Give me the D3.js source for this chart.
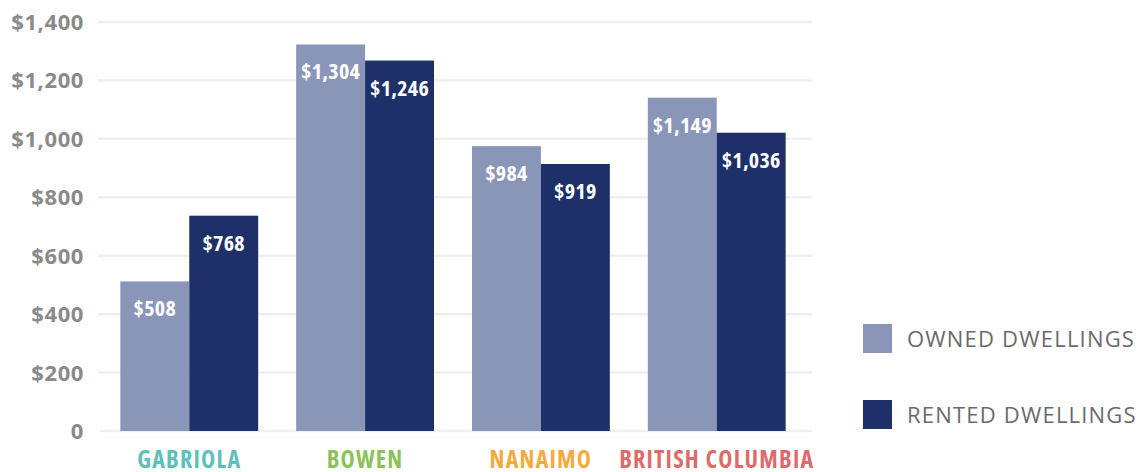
<!DOCTYPE html>
<html>
<head>
<meta charset="utf-8">
<script src="https://cdn.jsdelivr.net/npm/d3@7"></script>
<style>
  body { margin: 0; background: #fff; }
  svg { display: block; font-family: "Open Sans", sans-serif; }
</style>
</head>
<body>
<div id="chart"></div>
<script>
// Categories and values (bar heights as drawn, printed labels as shown)
const categories = ["GABRIOLA", "BOWEN", "NANAIMO", "BRITISH COLUMBIA"];
const ownedValues = [512, 1323, 975, 1141];
const rentedValues = [737, 1268, 914, 1021];
const ownedPrinted = [508, 1304, 984, 1149];
const rentedPrinted = [768, 1246, 919, 1036];
const seriesNames = ["OWNED DWELLINGS", "RENTED DWELLINGS"];
const yTicks = [0, 200, 400, 600, 800, 1000, 1200, 1400];

const categoryColors = ["#5fbfbb", "#8cc25a", "#f6aa3c", "#df6a6b"];
const seriesColors = ["#8a96b8", "#1e3068"];

class BarChart {
    constructor() {
        this.width = 1143;
        this.height = 472;
        this.svg = null;
    }

    init() {
        this.svg = d3.select("#chart").append("svg")
            .attr("width", this.width)
            .attr("height", this.height);

        this.y = d3.scaleLinear().domain([0, 1400]).range([431, 22]);
        this.x = d3.scaleBand()
            .domain(categories)
            .range([101, 805])
            .paddingInner(0.216)
            .paddingOuter(0.11);
        this.xSub = d3.scaleBand()
            .domain(seriesNames)
            .range([0, this.x.bandwidth()]);

        this.drawGrid();
        this.drawBars();
        this.drawCategoryLabels();
        this.drawLegend();
    }

    drawGrid() {
        const fmt = d => d === 0 ? "0" : d3.format("$,")(d);
        const grid = this.svg.append("g");
        grid.selectAll("line").data(yTicks).join("line")
            .attr("x1", d => d === 0 ? 100 : 98)
            .attr("x2", 812)
            .attr("y1", d => this.y(d))
            .attr("y2", d => this.y(d))
            .attr("stroke", "#efefef")
            .attr("stroke-width", 2.5);
        grid.selectAll("text").data(yTicks).join("text")
            .attr("x", 84)
            .attr("y", d => this.y(d) + 8)
            .attr("text-anchor", "end")
            .attr("fill", "#8a8a8a")
            .attr("font-size", 22)
            .attr("font-weight", 700)
            .attr("letter-spacing", 0.6)
            .text(fmt);
    }

    drawBars() {
        const rows = categories.map((c, i) => ({
            category: c,
            bars: [
                { key: seriesNames[0], value: ownedValues[i], printed: ownedPrinted[i], color: seriesColors[0] },
                { key: seriesNames[1], value: rentedValues[i], printed: rentedPrinted[i], color: seriesColors[1] }
            ]
        }));

        const groups = this.svg.append("g").selectAll("g").data(rows).join("g")
            .attr("transform", d => `translate(${this.x(d.category)},0)`);

        groups.selectAll("rect").data(d => d.bars).join("rect")
            .attr("x", d => this.xSub(d.key))
            .attr("width", this.xSub.bandwidth())
            .attr("y", d => this.y(d.value))
            .attr("height", d => this.y(0) - this.y(d.value))
            .attr("fill", d => d.color);

        groups.selectAll("text").data(d => d.bars).join("text")
            .attr("x", d => this.xSub(d.key) + this.xSub.bandwidth() / 2)
            .attr("y", d => this.y(d.value) + 35)
            .attr("text-anchor", "middle")
            .attr("fill", "#fff")
            .attr("font-size", 22)
            .attr("font-weight", 700)
            .attr("letter-spacing", 0.3)
            .style("font-stretch", "87.5%")
            .text(d => d3.format("$,")(d.printed));
    }

    drawCategoryLabels() {
        this.svg.append("g").selectAll("text").data(categories).join("text")
            .attr("x", d => this.x(d) + this.x.bandwidth() / 2)
            .attr("y", 468)
            .attr("text-anchor", "middle")
            .attr("fill", (d, i) => categoryColors[i])
            .attr("font-size", 24)
            .attr("font-weight", 700)
            .attr("letter-spacing", 1.2)
            .style("font-stretch", "87.5%")
            .text(d => d);
    }

    drawLegend() {
        const legend = this.svg.append("g").selectAll("g").data(seriesNames).join("g")
            .attr("transform", (d, i) => `translate(863,${324 + i * 76})`);
        legend.append("rect")
            .attr("width", 29)
            .attr("height", 29)
            .attr("fill", (d, i) => seriesColors[i]);
        legend.append("text")
            .attr("x", 44)
            .attr("y", 23)
            .attr("fill", "#6a6a6a")
            .attr("font-size", 22)
            .attr("letter-spacing", 1.2)
            .text(d => d);
    }
}

const chart = new BarChart();
chart.init();
</script>
</body>
</html>
